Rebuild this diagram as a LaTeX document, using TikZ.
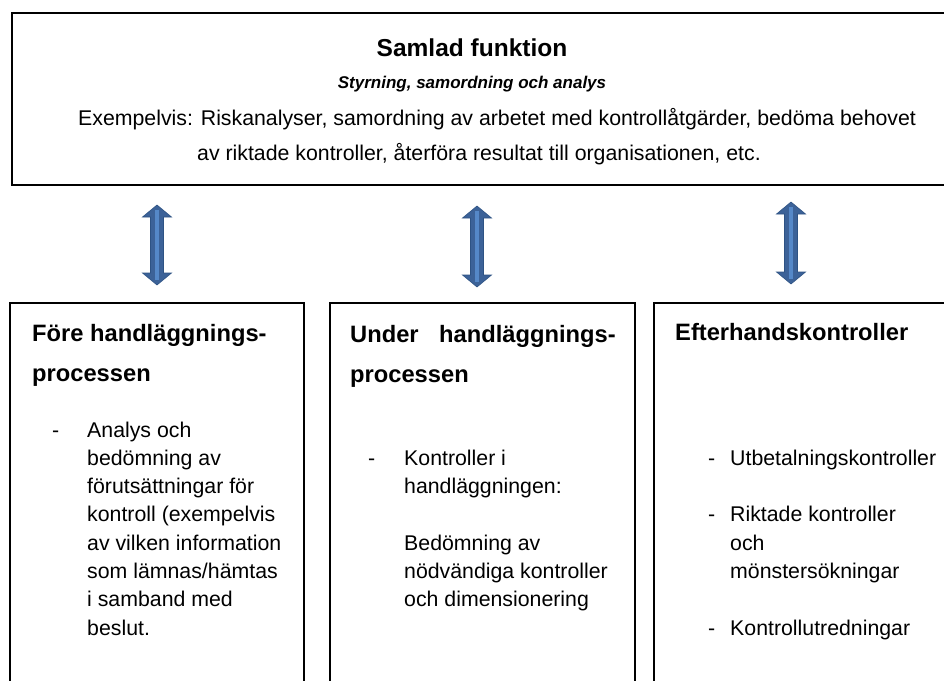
\documentclass[tikz,border=0pt]{standalone}
\usepackage{fontspec}
\setmainfont{Liberation Sans}
\definecolor{arrfill}{HTML}{3C6298}
\definecolor{arrlight}{HTML}{5588C8}
\definecolor{arrline}{HTML}{2E5384}
\newcommand{\dblarrow}[3]{%
  \fill[arrfill,draw=arrline,line width=0.6pt]
    (#1,#2) -- ++(14.5,12) -- ++(-8,0) |- (#1+14.5,#3-12) -- (#1,#3)
    -- (#1-14.5,#3-12) -- ++(8,0) |- (#1-14.5,#2+12) -- cycle;
  \fill[arrlight] (#1-2,#2+5) rectangle (#1+2,#3-5);
}
\begin{document}
\begin{tikzpicture}[x=1pt,y=-1pt,
  topbox/.style={draw=black,line width=2pt,anchor=north west,inner sep=0pt},
  lowbox/.style={draw=black,line width=1.6pt,anchor=north west,inner sep=0pt,minimum height=420},
  body/.style={inner sep=0pt,anchor=base west,font=\fontsize{21.3}{28}\selectfont},
  head/.style={inner sep=0pt,anchor=base west,font=\fontsize{23.7}{30}\selectfont\bfseries},
  ttl/.style={inner sep=0pt,anchor=base,font=\fontsize{24.5}{30}\selectfont\bfseries},
  sub/.style={inner sep=0pt,anchor=base,font=\fontsize{17}{20}\selectfont\bfseries\itshape}
]
\useasboundingbox (0,0) rectangle (944,680);
\clip (0,0) rectangle (944,680);
\fill[white] (0,0) rectangle (944,680);

% top box
\node[topbox,minimum width=960,minimum height=172] (top) at (11,12) {};
\node[ttl] (title) at (472,56) {Samlad funktion};
\node[sub] (subtitle) at (472,88) {Styrning, samordning och analys};
\node[body] (ex1) at (78,125) {Exempelvis: Riskanalyser, samordning av arbetet med kontrollåtgärder, bedöma behovet};
\node[body] (ex2) at (197,160) {av riktade kontroller, återföra resultat till organisationen, etc.};

% arrows
\dblarrow{157}{205}{285}
\dblarrow{477}{206}{287}
\dblarrow{791}{202}{284}

% lower boxes
\node[lowbox,minimum width=294] (left) at (9,302) {};
\node[lowbox,minimum width=305] (mid) at (329,302) {};
\node[lowbox,minimum width=320] (right) at (653,302) {};

% left box text
\node[head] (lh1) at (32,341) {Före handläggnings-};
\node[head] (lh2) at (32,381) {processen};
\node[body] (ld) at (52,437) {-};
\node[body] (l1) at (87,437) {Analys och};
\node[body] (l2) at (87,465.3) {bedömning av};
\node[body] (l3) at (87,493.6) {förutsättningar för};
\node[body] (l4) at (87,521.9) {kontroll (exempelvis};
\node[body] (l5) at (87,550.2) {av vilken information};
\node[body] (l6) at (87,578.5) {som lämnas/hämtas};
\node[body] (l7) at (87,606.8) {i samband med};
\node[body] (l8) at (87,635.1) {beslut.};

% middle box text
\node[head] (mh1a) at (350,342) {Under};
\node[head] (mh1b) at (439,342) {handläggnings-};
\node[head] (mh2) at (350,382) {processen};
\node[body] (md) at (368,465.3) {-};
\node[body] (m1) at (404,465.3) {Kontroller i};
\node[body] (m2) at (404,493.6) {handläggningen:};
\node[body] (m3) at (404,550.2) {Bedömning av};
\node[body] (m4) at (404,578.5) {nödvändiga kontroller};
\node[body] (m5) at (404,606.8) {och dimensionering};

% right box text
\node[head] (rh1) at (675,340) {Efterhandskontroller};
\node[body] (rd1) at (708,465.3) {-};
\node[body] (r1) at (730,465.3) {Utbetalningskontroller};
\node[body] (rd2) at (708,521.9) {-};
\node[body] (r2) at (730,521.9) {Riktade kontroller};
\node[body] (r3) at (730,550.2) {och};
\node[body] (r4) at (730,578.5) {mönstersökningar};
\node[body] (rd3) at (708,635.1) {-};
\node[body] (r5) at (730,635.1) {Kontrollutredningar};
\end{tikzpicture}
\end{document}
